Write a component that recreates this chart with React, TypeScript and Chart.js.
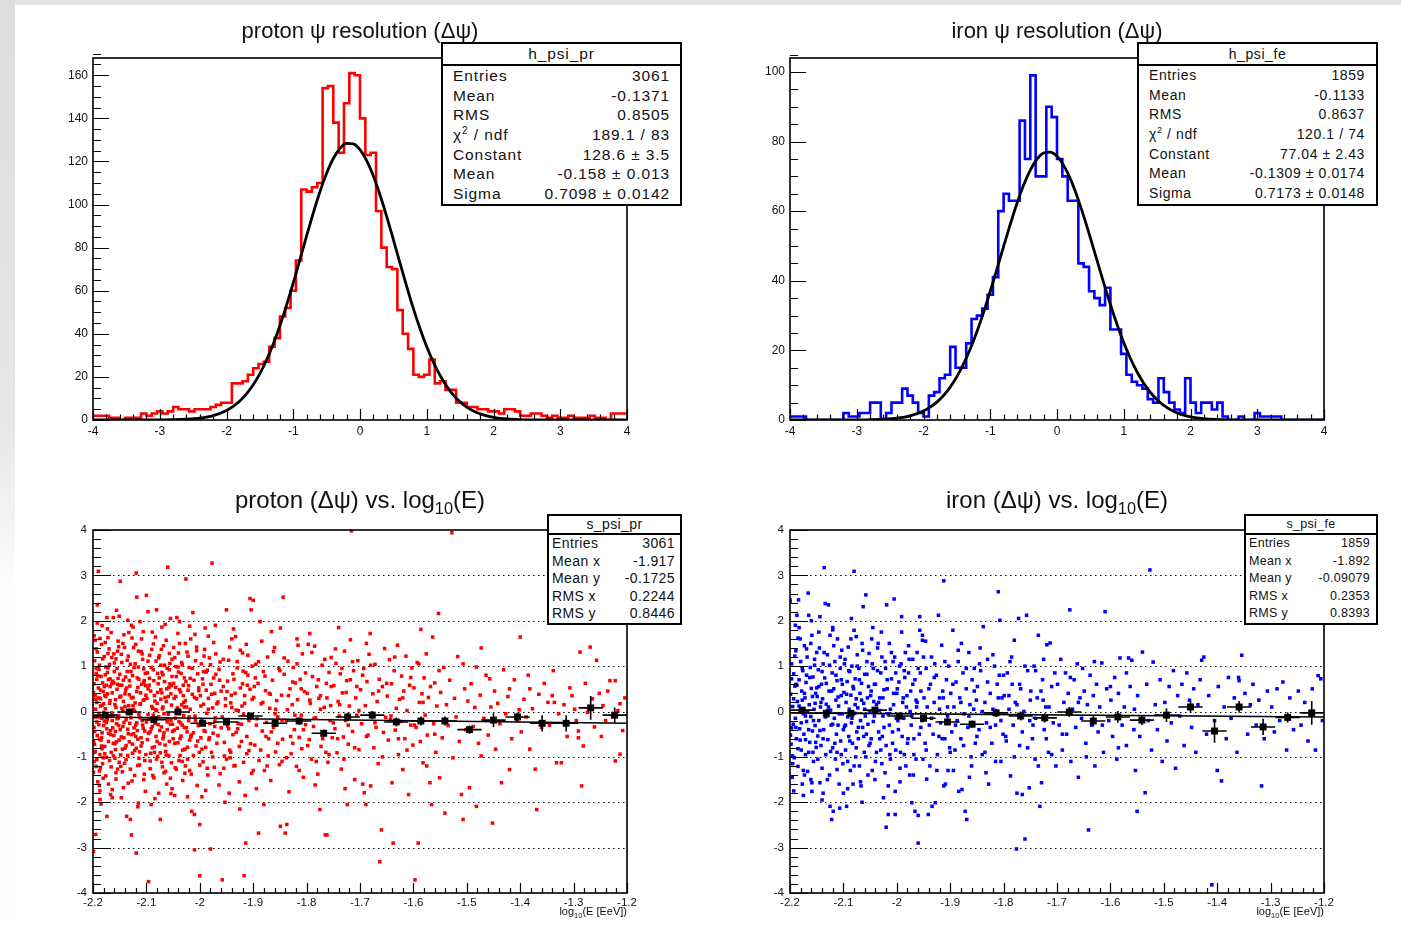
import React, { useEffect, useRef } from "react";
import { Chart, registerables } from "chart.js";

Chart.register(...registerables);

const FONT = '"Liberation Sans", Arial, Helvetica, sans-serif';

// ---------------- histogram data (100 bins, -4 .. 4) ----------------
const histBinLow = -4;
const histBinWidth = 0.08;

const protonCounts = [
  1, 2, 2, 2, 1, 1, 0, 1, 1, 1,
  3, 2, 3, 4, 3, 4, 6, 5, 5, 4,
  5, 5, 5, 6, 7, 8, 8, 17, 17, 18,
  21, 24, 26, 27, 34, 38, 48, 52, 60, 74,
  107, 106, 108, 110, 154, 155, 138, 124, 147, 161,
  160, 140, 123, 124, 97, 80, 71, 70, 51, 40,
  33, 21, 20, 21, 28, 17, 18, 14, 14, 8,
  8, 6, 6, 5, 5, 4, 4, 3, 5, 5,
  4, 2, 2, 3, 3, 2, 1, 2, 1, 1,
  2, 1, 1, 1, 2, 1, 1, 0, 3, 3,
];

const ironCounts = [
  1, 1, 1, 1, 0, 0, 0, 0, 0, 0,
  0, 2, 1, 1, 2, 2, 5, 5, 0, 2,
  5, 5, 9, 7, 5, 2, 1, 7, 8, 12,
  13, 21, 15, 15, 22, 29, 30, 32, 36, 41,
  60, 65, 63, 63, 86, 75, 99, 70, 70, 90,
  87, 75, 70, 63, 63, 45, 44, 37, 35, 33,
  38, 26, 26, 19, 13, 11, 10, 9, 6, 5,
  12, 8, 5, 3, 2, 12, 5, 2, 5, 5,
  3, 5, 1, 0, 0, 1, 0, 0, 2, 1,
  1, 1, 1, 0, 0, 0, 0, 0, 0, 0,
];

// fitted gaussian curves
const fitX = [
  -4, -3.5, -3, -2.8, -2.6, -2.4, -2.2,
  -2, -1.9, -1.8, -1.7, -1.6, -1.5, -1.4, -1.3, -1.2, -1.1,
  -1, -0.9, -0.8, -0.7, -0.6, -0.5, -0.4, -0.3, -0.2, -0.1,
  0, 0.1, 0.2, 0.3, 0.4, 0.5, 0.6, 0.7, 0.8, 0.9,
  1, 1.1, 1.2, 1.3, 1.4, 1.5, 1.6, 1.7, 1.8, 1.9,
  2, 2.2, 2.4, 2.6, 2.8, 3, 3.5, 4,
];
const protonFit = [
  0, 0, 0.04, 0.13, 0.35, 0.88, 2.05,
  4.44, 6.33, 8.85, 12.15, 16.33, 21.53, 27.83, 35.25, 43.79, 53.32,
  63.63, 74.46, 85.42, 96.08, 105.93, 114.5, 121.35, 126.05, 128.37, 128.17,
  125.45, 120.38, 113.25, 104.43, 94.42, 83.68, 72.71, 61.93, 51.72, 42.35,
  33.99, 26.75, 20.63, 15.6, 11.56, 8.4, 5.98, 4.18, 2.86, 1.92,
  1.27, 0.52, 0.19, 0.07, 0.02, 0, 0, 0,
];
const ironFit = [
  0, 0, 0, 0.08, 0.21, 0.52, 1.2,
  2.58, 3.68, 5.14, 7.04, 9.46, 12.46, 16.11, 20.41, 25.37, 30.93,
  36.98, 43.36, 49.86, 56.24, 62.21, 67.49, 71.8, 74.93, 76.68, 76.97,
  75.77, 73.15, 69.26, 64.32, 58.58, 52.33, 45.84, 39.39, 33.19, 27.43,
  22.23, 17.67, 13.78, 10.54, 7.9, 5.81, 4.19, 2.96, 2.06, 1.4,
  0.93, 0.39, 0.15, 0.05, 0.02, 0, 0, 0,
];

// ---------------- tick labels ----------------
const histXTicks = [-4, -3, -2, -1, 0, 1, 2, 3, 4];
const histXTickLabels = ["-4", "-3", "-2", "-1", "0", "1", "2", "3", "4"];
const protonYTicks = [0, 20, 40, 60, 80, 100, 120, 140, 160];
const protonYTickLabels = ["0", "20", "40", "60", "80", "100", "120", "140", "160"];
const ironYTicks = [0, 20, 40, 60, 80, 100];
const ironYTickLabels = ["0", "20", "40", "60", "80", "100"];
const profXTicks = [-2.2, -2.1, -2, -1.9, -1.8, -1.7, -1.6, -1.5, -1.4, -1.3, -1.2];
const profXTickLabels = ["-2.2", "-2.1", "-2", "-1.9", "-1.8", "-1.7", "-1.6", "-1.5", "-1.4", "-1.3", "-1.2"];
const profYTicks = [-4, -3, -2, -1, 0, 1, 2, 3, 4];
const profYTickLabels = ["-4", "-3", "-2", "-1", "0", "1", "2", "3", "4"];
const profGridLevels = [-3, -2, -1, 0, 1, 2, 3];

// ---------------- profiles (black markers) ----------------
const profileX = [
  -2.177, -2.132, -2.086, -2.041, -1.995, -1.95, -1.905, -1.859, -1.814, -1.768, -1.723,
  -1.677, -1.632, -1.586, -1.541, -1.495, -1.45, -1.405, -1.359, -1.314, -1.268, -1.223,
];
const profileHalfWidth = 0.0227;
const protonProfileY = [
  -0.08, -0.01, -0.18, -0.01, -0.26, -0.23, -0.1, -0.26, -0.21, -0.48, -0.12,
  -0.08, -0.23, -0.21, -0.21, -0.4, -0.19, -0.12, -0.26, -0.26, 0.08, -0.08,
];
const protonProfileErr = [
  0.04, 0.04, 0.05, 0.05, 0.06, 0.06, 0.07, 0.07, 0.08, 0.08, 0.09,
  0.09, 0.1, 0.1, 0.1, 0.09, 0.15, 0.1, 0.18, 0.18, 0.26, 0.17,
];
const ironProfileY = [
  0.03, -0.04, -0.04, 0.03, -0.1, -0.15, -0.23, -0.28, -0.03, -0.1, -0.14,
  -0.01, -0.21, -0.12, -0.19, -0.08, 0.1, -0.43, 0.1, -0.34, -0.13, -0.03,
];
const ironProfileErr = [
  0.05, 0.05, 0.06, 0.06, 0.07, 0.07, 0.08, 0.08, 0.09, 0.1, 0.1,
  0.11, 0.11, 0.13, 0.11, 0.15, 0.13, 0.26, 0.13, 0.18, 0.11, 0.26,
];
const lineX = [-2.2, -1.2];
const protonLineY = [-0.12, -0.26];
const ironLineY = [-0.03, -0.12];

// ---------------- scatter points, pairs of (log10 E, delta psi) ----------------
const protonScatter = [
  -2.199,0.42, -2.198,-0.35, -2.197,1.12, -2.196,-0.88, -2.195,0.05, -2.194,-1.21, -2.193,0.71, -2.192,2.35, -2.191,-0.12, -2.19,3.09,
  -2.189,0.93, -2.188,-0.61, -2.187,-1.94, -2.186,0.28, -2.185,-2.04, -2.184,1.48, -2.183,-0.47, -2.182,0.63, -2.181,-1.02, -2.18,0.17,
  -2.199,-1.34, -2.198,1.67, -2.197,-0.72, -2.196,0.36, -2.195,-2.71, -2.194,0.84, -2.193,-0.23, -2.192,1.31, -2.191,-1.55, -2.19,0.52,
  -2.189,-0.04, -2.188,1.02, -2.187,-0.95, -2.186,0.12, -2.185,0.77, -2.184,-0.58, -2.183,1.89, -2.182,-1.15, -2.181,0.44, -2.18,-0.31,
  -2.179,1.21, -2.178,-0.77, -2.177,0.06, -2.176,-1.42, -2.175,0.58, -2.174,2.07, -2.173,-0.18, -2.172,0.96, -2.171,-0.66, -2.17,1.38,
  -2.169,-1.08, -2.168,0.24, -2.167,-0.42, -2.166,1.74, -2.165,-0.03, -2.164,-1.72, -2.163,0.67, -2.162,2.07, -2.161,-0.53, -2.16,0.88,
  -2.159,0.15, -2.158,-0.84, -2.157,1.16, -2.156,-0.27, -2.155,0.49, -2.154,-1.27, -2.153,1.55, -2.152,-0.09, -2.151,-0.63, -2.15,0.32,
  -2.179,-0.21, -2.177,0.81, -2.175,-1.01, -2.173,0.39, -2.171,-0.48, -2.169,1.04, -2.167,-1.83, -2.165,0.61, -2.163,-0.36, -2.161,1.27,
  -2.159,-0.71, -2.157,0.09, -2.155,-0.16, -2.153,0.73, -2.151,-1.12, -2.196,1.57, -2.188,-1.63, -2.176,0.98, -2.166,-0.9, -2.156,2.23,
  -2.174,-2.31, -2.162,-0.98, -2.152,1.43, -2.158,-0.44, -2.168,0.55, -2.183,-0.82, -2.193,0.2, -2.172,1.63, -2.186,-1.24, -2.157,-1.49,
  -2.199,-3.09, -2.198,-1.1, -2.197,-0.9, -2.194,0.95, -2.189,0.3, -2.184,-0.15, -2.178,0.35, -2.171,0.7, -2.164,-0.2, -2.154,0.6,
  -2.149,2.87, -2.148,0.34, -2.147,-0.56, -2.146,1.08, -2.145,-1.33, -2.144,0.02, -2.143,0.69, -2.142,-0.24, -2.141,1.41, -2.14,-0.81,
  -2.139,0.47, -2.138,-1.06, -2.137,-2.31, -2.136,0.88, -2.135,-0.39, -2.134,1.22, -2.133,0.13, -2.132,-0.67, -2.131,0.56, -2.13,-2.38,
  -2.129,-0.14, -2.128,-2.72, -2.127,1.62, -2.126,-0.92, -2.125,0.31, -2.124,-0.49, -2.123,0.97, -2.122,-1.41, -2.121,0.19, -2.12,-0.3,
  -2.119,3.05, -2.119,-3.12, -2.118,2.52, -2.117,0.74, -2.116,-0.61, -2.115,1.33, -2.114,-0.07, -2.113,-1.18, -2.112,1.98, -2.111,0.41,
  -2.11,-0.76, -2.109,0.6, -2.108,-0.2, -2.107,1.15, -2.106,1.76, -2.105,-1.5, -2.104,0.26, -2.103,-0.43, -2.102,0.84, -2.101,-0.95,
  -2.1,2.56, -2.148,-1.21, -2.146,0.58, -2.144,-0.33, -2.142,1.69, -2.14,0.11, -2.138,-0.75, -2.136,-0.02, -2.134,-1.58, -2.132,0.37,
  -2.13,1.04, -2.128,-0.51, -2.126,0.79, -2.124,0.04, -2.122,-0.86, -2.12,1.48, -2.118,-0.25, -2.116,0.53, -2.114,-1.03, -2.112,0.16,
  -2.11,-0.58, -2.108,1.27, -2.106,-0.37, -2.104,0.68, -2.102,-1.76, -2.147,-1.9, -2.135,2.01, -2.125,1.86, -2.115,-2.02, -2.105,0.94,
  -2.099,0.29, -2.098,-0.62, -2.097,1.11, -2.096,-3.75, -2.095,-0.17, -2.094,0.73, -2.093,-1.09, -2.092,0.45, -2.091,-0.38, -2.09,1.37,
  -2.089,-0.8, -2.088,0.07, -2.087,0.92, -2.086,-1.46, -2.085,0.35, -2.084,-0.26, -2.083,1.64, -2.082,-0.55, -2.081,2.24, -2.08,0.18,
  -2.079,-0.99, -2.078,0.61, -2.077,-0.12, -2.076,1.23, -2.075,-0.71, -2.074,-2.38, -2.073,0.48, -2.072,-0.34, -2.071,0.86, -2.07,-1.22,
  -2.069,0.1, -2.068,1.45, -2.067,-0.47, -2.066,0.66, -2.065,1.92, -2.064,-0.88, -2.063,0.22, -2.062,-1.6, -2.061,0.95, -2.06,3.18,
  -2.059,-0.06, -2.058,0.53, -2.057,-0.66, -2.056,1.06, -2.055,-0.28, -2.054,0.39, -2.053,-1.13, -2.052,0.77, -2.051,-0.44, -2.097,0.5,
  -2.093,-0.45, -2.089,1.75, -2.085,-0.9, -2.081,0.02, -2.077,-1.8, -2.073,1.02, -2.069,-0.6, -2.065,0.31, -2.061,-0.23, -2.057,1.28,
  -2.053,0.57, -2.091,-2.05, -2.079,0.84, -2.067,-1.35, -2.055,2.05, -2.087,-0.08, -2.071,0.41, -2.063,-0.96, -2.052,-1.7,
  -2.049,0.62, -2.048,-0.41, -2.047,1.19, -2.046,-0.15, -2.045,0.33, -2.044,-1.27, -2.043,2.07, -2.042,0.08, -2.041,-0.69, -2.04,0.87,
  -2.039,-0.22, -2.038,1.5, -2.037,-0.97, -2.036,0.43, -2.035,-0.54, -2.034,0.15, -2.033,1.03, -2.032,-1.52, -2.031,0.58, -2.03,-0.09,
  -2.029,0.74, -2.028,-0.83, -2.027,0.24, -2.026,2.92, -2.025,-0.36, -2.024,1.31, -2.023,-1.05, -2.022,0.47, -2.021,-0.2, -2.02,0.97,
  -2.019,-0.63, -2.018,0.05, -2.017,1.6, -2.016,-1.38, -2.015,-2.2, -2.014,0.38, -2.013,2.18, -2.012,-0.47, -2.011,0.69, -2.01,-2.27,
  -2.01,-3.05, -2.009,-0.1, -2.008,1.12, -2.007,-0.76, -2.006,0.28, -2.005,-1.63, -2.004,0.83, -2.003,-0.31, -2.002,0.52, -2.001,-0.9,
  -2.047,-1.85, -2.041,1.72, -2.033,-0.3, -2.027,-1.2, -2.019,1.88, -2.045,0.99, -2.029,0.1, -2.017,-0.56, -2.006,1.42,
  -1.999,0.35, -1.998,-0.58, -1.997,1.05, -1.996,-0.19, -1.995,0.72, -1.994,-1.11, -1.993,0.16, -1.992,-0.42, -1.991,1.37, -1.99,1.84,
  -1.989,-0.79, -1.988,0.47, -1.987,-0.04, -1.986,0.91, -1.985,-1.4, -1.984,0.29, -1.983,-0.62, -1.982,1.18, -1.981,-0.27, -1.98,-3.03,
  -1.979,0.6, -1.978,-0.9, -1.977,3.27, -1.976,0.08, -1.975,-0.48, -1.974,1.52, -1.973,-1.23, -1.972,0.4, -1.971,-0.14, -1.97,0.82,
  -1.968,-0.7, -1.966,0.21, -1.964,-1.62, -1.962,1.09, -1.96,-0.36, -1.958,-3.71, -1.956,0.55, -1.954,-0.98, -1.952,0.13, -1.95,2.24,
  -2.0,-2.49, -2.0,-3.62, -1.996,-1.88, -1.984,1.66, -1.972,-0.33, -1.963,0.69, -1.955,-1.25, -1.993,0.88,
  -1.949,0.44, -1.948,-0.32, -1.946,1.13, -1.944,-0.85, -1.942,0.19, -1.94,1.6, -1.938,-0.51, -1.936,0.71, -1.934,-1.19, -1.932,0.03,
  -1.93,0.96, -1.928,-0.27, -1.926,-1.55, -1.924,0.52, -1.922,-0.66, -1.92,1.29, -1.918,-0.06, -1.917,-3.62, -1.916,0.35, -1.914,-2.9,
  -1.912,-0.93, -1.91,0.8, -1.908,-0.2, -1.906,2.49, -1.904,2.24, -1.903,-1.36, -1.902,0.27, -1.9,2.45, -1.945,-1.8, -1.937,1.82,
  -1.929,-0.38, -1.921,0.12, -1.913,1.48, -1.905,-0.71, -1.941,0.36, -1.925,-2.15, -1.911,0.58, -1.943,-1.02, -1.919,0.89,
  -1.899,0.31, -1.897,-0.74, -1.895,1.04, -1.893,-0.16, -1.891,0.62, -1.89,-2.68, -1.889,-1.08, -1.887,1.98, -1.885,0.17, -1.883,-0.43,
  -1.881,0.88, -1.88,-2.05, -1.879,-1.3, -1.877,0.46, -1.875,-0.24, -1.873,1.2, -1.871,-0.6, -1.869,0.07, -1.867,-1.52, -1.866,1.76,
  -1.864,0.69, -1.862,-0.35, -1.86,1.41, -1.858,-0.89, -1.856,0.24, -1.854,-0.12, -1.852,0.95, -1.851,-1.17, -1.894,-1.7, -1.884,1.55,
  -1.876,-0.55, -1.868,0.38, -1.859,-0.05, -1.896,0.74, -1.872,-0.98,
  -1.849,1.84, -1.849,-2.53, -1.847,0.36, -1.845,-0.61, -1.844,2.52, -1.842,0.82, -1.84,-2.68, -1.838,-0.2, -1.837,-2.49, -1.835,1.11,
  -1.833,-1.77, -1.831,0.5, -1.829,-0.93, -1.827,0.15, -1.825,0.97, -1.823,-0.4, -1.821,0.63, -1.819,-1.21, -1.817,0.26, -1.816,1.46,
  -1.814,-0.57, -1.812,0.71, -1.81,-0.08, -1.808,1.27, -1.806,-1.45, -1.804,0.44, -1.802,-0.29, -1.846,-1.1, -1.836,0.04, -1.826,-0.7,
  -1.818,1.6, -1.809,-0.82,
  -1.799,0.4, -1.797,1.48, -1.795,-0.62, -1.793,0.18, -1.791,-1.05, -1.789,0.77, -1.787,-0.33, -1.785,1.44, -1.783,-0.14, -1.781,0.55,
  -1.779,-1.38, -1.777,0.29, -1.775,-2.16, -1.773,-0.77, -1.771,1.02, -1.769,-0.46, -1.767,0.09, -1.765,-2.72, -1.763,0.62, -1.762,-2.72,
  -1.76,-1.12, -1.758,0.86, -1.756,-0.2, -1.754,1.19, -1.752,-0.58, -1.794,1.72, -1.784,-1.62, -1.774,0.35, -1.764,-0.9, -1.755,0.13,
  -1.749,0.57, -1.747,-0.38, -1.745,1.06, -1.743,-0.91, -1.741,0.22, -1.739,-0.1, -1.737,0.83, -1.735,-1.27, -1.733,0.41, -1.731,-0.56,
  -1.729,1.33, -1.727,-0.2, -1.725,0.68, -1.724,-2.05, -1.722,-0.72, -1.72,0.12, -1.718,1.58, -1.716,3.98, -1.714,-0.44, -1.712,0.9,
  -1.71,-1.5, -1.708,0.3, -1.706,-0.08, -1.704,1.12, -1.702,-0.84, -1.74,1.85, -1.728,-1.7,
  -1.699,0.48, -1.697,-0.27, -1.695,-1.6, -1.693,0.95, -1.692,-1.79, -1.69,0.13, -1.689,-2.05, -1.687,0.66, -1.685,-0.52, -1.683,1.26,
  -1.681,1.72, -1.68,-1.64, -1.678,-0.09, -1.676,0.39, -1.674,-0.8, -1.672,1.04, -1.67,-0.35, -1.668,0.22, -1.666,-1.15, -1.664,0.71,
  -1.663,-3.31, -1.66,-2.61, -1.658,0.55, -1.656,-0.46, -1.654,1.39, -1.652,-0.13, -1.688,1.5,
  -1.649,0.34, -1.647,-0.63, -1.645,1.14, -1.643,-0.18, -1.641,0.61, -1.64,-1.57, -1.638,-2.9, -1.636,0.9, -1.634,-0.41, -1.632,0.07,
  -1.63,1.46, -1.628,-0.95, -1.626,0.27, -1.624,-0.22, -1.622,0.78, -1.62,-1.28, -1.618,0.45, -1.616,-0.6, -1.614,1.22, -1.612,0.02,
  -1.609,-1.83, -1.607,0.58, -1.605,-0.3, -1.603,0.96, -1.601,-0.74,
  -1.599,0.52, -1.597,-3.71, -1.595,-0.35, -1.593,1.08, -1.591,-2.9, -1.589,0.2, -1.587,-0.66, -1.586,1.81, -1.584,0.39, -1.582,-1.13,
  -1.58,0.74, -1.578,-0.08, -1.576,1.27, -1.574,-0.52, -1.572,0.31, -1.569,-1.57, -1.566,-2.05, -1.564,1.64, -1.562,-0.27, -1.56,0.63,
  -1.558,-0.9, -1.556,0.12, -1.553,2.16, -1.551,-1.46,
  -1.549,0.42, -1.546,-0.58, -1.543,0.97, -1.541,-2.24, -1.538,0.15, -1.535,-0.31, -1.532,0.69, -1.528,3.94, -1.526,-1.02, -1.523,0.29,
  -1.52,-0.12, -1.517,1.21, -1.514,-0.66, -1.51,-1.83, -1.507,1.05, -1.507,-2.38, -1.504,0.5, -1.502,-0.4,
  -1.498,0.23, -1.495,-1.68, -1.492,0.61, -1.488,-0.33, -1.485,0.09, -1.482,0.98, -1.482,-2.09, -1.478,-0.7, -1.475,0.36, -1.473,1.4,
  -1.473,-0.98, -1.468,-0.15, -1.464,0.8, -1.46,-0.52, -1.457,0.72, -1.452,-2.46, -1.455,0.1,
  -1.448,0.45, -1.446,-0.83, -1.442,0.18, -1.438,-0.27, -1.435,-1.57, -1.431,0.92, -1.427,-0.05, -1.423,0.33, -1.42,-1.28, -1.42,0.5,
  -1.416,-0.6, -1.411,0.7, -1.406,-0.2, -1.402,0.04, -1.4,1.64,
  -1.398,-0.45, -1.393,0.27, -1.389,-0.12, -1.385,0.8, -1.382,0.5, -1.382,-0.83, -1.377,0.06, -1.372,-1.27, -1.369,-2.16, -1.365,0.38,
  -1.36,-0.35, -1.355,0.62,
  -1.348,0.2, -1.345,-0.3, -1.34,0.35, -1.338,0.9, -1.336,0.2, -1.332,-1.13, -1.328,-0.05, -1.323,-1.13, -1.318,0.15, -1.312,-0.55,
  -1.307,0.52, -1.303,0.35,
  -1.298,0.05, -1.295,-0.2, -1.291,-0.43, -1.291,-0.58, -1.288,1.31, -1.285,-1.64, -1.282,-0.76, -1.278,0.62, -1.274,-0.02, -1.269,1.42,
  -1.265,0.28, -1.261,-0.34, -1.257,1.13, -1.252,0.4,
  -1.248,-0.55, -1.245,0.13, -1.24,-0.2, -1.236,0.45, -1.232,0.68, -1.227,-0.12, -1.222,0.68, -1.222,-1.09, -1.217,0.02, -1.213,-0.94,
  -1.213,0.17, -1.208,-0.42, -1.204,0.3,
];

// the dense core of the proton cloud
const protonScatterCore = [
  -2.198,0.61, -2.196,-0.12, -2.194,1.38, -2.192,-0.53, -2.19,0.94, -2.188,-1.31, -2.186,0.47, -2.184,-0.76, -2.182,1.16, -2.18,-0.02,
  -2.197,-0.44, -2.195,0.27, -2.193,-1.06, -2.191,0.79, -2.189,-0.29, -2.187,1.61, -2.185,-0.63, -2.183,0.14, -2.181,-1.47, -2.179,0.55,
  -2.178,-0.93, -2.176,0.33, -2.174,-0.38, -2.172,1.28, -2.17,-0.11, -2.168,0.72, -2.166,-1.22, -2.164,0.41, -2.162,-0.7, -2.16,1.07,
  -2.177,1.52, -2.175,-0.24, -2.173,0.86, -2.171,-1.6, -2.169,0.18, -2.167,-0.51, -2.165,1.19, -2.163,-0.09, -2.161,0.63, -2.159,-1.03,
  -2.158,0.26, -2.156,-0.67, -2.154,1.33, -2.152,-0.31, -2.15,0.82, -2.148,-0.96, -2.146,0.07, -2.144,1.5, -2.142,-0.58, -2.14,0.39,
  -2.157,-1.35, -2.155,0.95, -2.153,-0.15, -2.151,0.58, -2.149,-0.4, -2.147,1.26, -2.145,-0.83, -2.143,0.22, -2.141,-1.14, -2.139,0.76,
  -2.138,-0.18, -2.136,1.13, -2.134,-0.49, -2.132,0.68, -2.13,-1.27, -2.128,0.3, -2.126,-0.72, -2.124,1.41, -2.122,0.01, -2.12,-0.55,
  -2.137,0.52, -2.135,-0.97, -2.133,1.74, -2.131,-0.26, -2.129,0.88, -2.127,-1.53, -2.125,0.13, -2.123,-0.36, -2.121,1.05, -2.119,-0.81,
  -2.118,0.44, -2.116,-1.19, -2.114,0.71, -2.112,-0.14, -2.11,1.32, -2.108,-0.69, -2.106,0.25, -2.104,-1.38, -2.102,0.57, -2.1,-0.23,
  -2.117,-0.42, -2.115,0.98, -2.113,-0.89, -2.111,0.17, -2.109,1.6, -2.107,-0.3, -2.105,0.64, -2.103,-1.08, -2.101,0.36, -2.199,-0.66,
  -2.098,0.85, -2.096,-0.48, -2.094,1.24, -2.092,-0.92, -2.09,0.11, -2.088,-1.41, -2.086,0.68, -2.084,0.23, -2.082,1.11, -2.08,-0.66,
  -2.097,-0.07, -2.095,0.58, -2.093,-1.26, -2.091,0.97, -2.089,-0.33, -2.087,1.49, -2.085,-0.78, -2.083,0.04, -2.081,-1.05, -2.079,0.42,
  -2.078,-0.29, -2.076,0.74, -2.074,-0.91, -2.072,1.37, -2.07,0.06, -2.068,-0.54, -2.066,1.02, -2.064,-1.32, -2.062,0.5, -2.06,-0.17,
  -2.077,1.18, -2.075,-0.42, -2.073,0.27, -2.071,-1.12, -2.069,0.81, -2.067,-0.05, -2.065,-0.74, -2.063,1.57, -2.061,-0.4, -2.059,0.33,
  -2.058,-0.97, -2.056,0.61, -2.054,-0.19, -2.052,1.15, -2.05,-0.6, -2.048,0.29, -2.046,-1.24, -2.044,0.77, -2.042,-0.37, -2.04,1.29,
  -2.057,0.92, -2.055,-1.47, -2.053,0.14, -2.051,-0.28, -2.049,1.41, -2.047,-0.7, -2.045,0.53, -2.043,-0.04, -2.041,0.98, -2.039,-1.08,
  -2.038,0.48, -2.036,-0.25, -2.034,1.08, -2.032,-0.85, -2.03,0.2, -2.028,-1.36, -2.026,0.66, -2.024,-0.45, -2.022,1.22, -2.02,-0.12,
  -2.037,-0.6, -2.035,0.84, -2.033,-1.1, -2.031,0.35, -2.029,-0.35, -2.027,1.5, -2.025,0.1, -2.023,-0.79, -2.021,0.57, -2.019,-1.3,
  -2.018,0.73, -2.016,-0.52, -2.014,0.95, -2.012,-0.97, -2.01,0.31, -2.008,-0.2, -2.006,1.34, -2.004,-0.65, -2.002,0.46, -2.0,-1.18,
  -1.998,0.12, -1.996,-0.83, -1.994,0.6, -1.992,1.22, -1.99,-0.44, -1.988,0.87, -1.986,-1.25, -1.984,0.05, -1.982,-0.58, -1.98,1.03,
  -1.978,0.38, -1.976,-1.0, -1.974,0.74, -1.972,-0.22, -1.97,1.27, -1.968,0.17, -1.966,-0.53, -1.964,0.93, -1.962,-1.37, -1.96,0.45,
  -1.958,-0.12, -1.956,1.15, -1.954,-0.68, -1.952,0.28, -1.95,-1.05, -1.948,0.67, -1.946,-0.38, -1.944,1.42, -1.942,-0.9, -1.94,0.09,
  -1.938,0.83, -1.936,-1.2, -1.934,0.4, -1.932,-0.46, -1.93,1.1, -1.928,0.02, -1.926,-0.77, -1.924,1.35, -1.922,-0.28, -1.92,0.61,
  -1.918,-1.12, -1.916,0.18, -1.914,0.86, -1.912,-0.55, -1.91,1.24, -1.908,-0.86, -1.906,0.49, -1.904,-0.1, -1.902,1.0, -1.9,-1.3,
  -2.192,1.95, -2.187,-1.75, -2.173,1.82, -2.164,-1.9, -2.151,2.1, -2.143,-1.68, -2.128,1.9, -2.116,-2.1, -2.097,2.2, -2.084,-1.92,
  -2.071,1.86, -2.054,-1.81, -2.038,1.98, -2.023,-1.88, -2.009,1.7, -1.989,-1.74, -1.971,1.9, -1.953,-2.0, -1.933,1.65, -1.915,-1.85,
  -1.898,0.55, -1.894,-0.3, -1.89,1.1, -1.886,-0.85, -1.882,0.2, -1.878,0.78, -1.874,-1.2, -1.87,0.4, -1.866,-0.45, -1.862,1.32,
  -1.858,0.05, -1.854,-0.7, -1.85,0.9, -1.846,-0.2, -1.842,1.18, -1.838,-1.02, -1.834,0.35, -1.83,-0.55, -1.826,0.65, -1.822,-0.08,
  -1.818,1.05, -1.814,-1.3, -1.81,0.5, -1.806,-0.4, -1.802,0.85, -1.798,-0.75, -1.794,0.25, -1.79,1.3, -1.786,-0.15, -1.782,-1.1,
  -1.778,0.7, -1.774,0.05, -1.77,-0.6, -1.766,1.15, -1.762,0.3, -1.758,-0.95, -1.754,0.55, -1.75,-0.25, -1.746,1.38, -1.742,-0.6,
  -1.738,0.15, -1.734,0.95, -1.73,-1.05, -1.726,0.42, -1.722,-0.3, -1.718,0.7, -1.714,1.1, -1.71,-0.8, -1.706,0.55, -1.702,0.02,
  -1.695,0.8, -1.688,-0.55, -1.68,1.02, -1.672,-0.25, -1.665,0.45, -1.658,-1.0, -1.65,0.62, -1.642,-0.1, -1.635,1.2, -1.628,-0.6,
  -1.62,0.3, -1.612,-0.85, -1.605,0.75, -1.598,-0.3, -1.59,1.05, -1.582,0.2, -1.575,-1.2, -1.568,0.55, -1.56,-0.5, -1.552,0.9,
];

const ironScatter = [
  -2.2,2.46, -2.2,2.42, -2.199,0.38, -2.198,-0.72, -2.197,1.05, -2.196,-1.45, -2.195,0.11, -2.194,-0.28, -2.193,0.83, -2.192,-1.02,
  -2.191,0.56, -2.19,-0.15, -2.189,1.34, -2.188,-0.6, -2.187,2.12, -2.186,0.22, -2.185,-1.21, -2.184,2.46, -2.183,0.7, -2.182,-0.38,
  -2.181,0.02, -2.18,1.1, -2.179,-0.85, -2.178,0.45, -2.177,-1.6, -2.176,0.9, -2.175,-0.05, -2.174,-0.5, -2.173,1.45, -2.172,0.3,
  -2.171,-0.95, -2.17,0.64, -2.169,-0.22, -2.168,1.2, -2.167,-1.32, -2.166,2.61, -2.165,2.12, -2.164,0.15, -2.163,-0.68, -2.162,0.97,
  -2.161,-0.11, -2.16,0.51, -2.159,1.68, -2.159,-1.76, -2.159,-1.57, -2.158,-0.43, -2.157,0.76, -2.156,-1.1, -2.155,0.05, -2.154,1.02,
  -2.153,-0.31, -2.152,0.4, -2.151,-0.79, -2.15,1.3, -2.197,-0.36, -2.193,-1.75, -2.189,0.6, -2.185,1.62, -2.181,-0.63, -2.177,0.25,
  -2.173,-1.4, -2.169,0.8, -2.165,-0.4, -2.161,1.5, -2.157,-0.9, -2.153,0.18, -2.195,-0.98, -2.183,1.85, -2.171,-0.1,
  -2.149,0.33, -2.148,-0.54, -2.147,0.92, -2.146,-0.2, -2.145,1.4, -2.144,2.09, -2.144,-1.57, -2.143,0.1, -2.142,-0.75, -2.141,0.6,
  -2.14,-1.25, -2.139,0.28, -2.138,1.05, -2.137,-0.4, -2.136,3.17, -2.135,0.74, -2.134,2.38, -2.133,-0.95, -2.132,0.16, -2.131,-0.1,
  -2.13,1.25, -2.129,-0.62, -2.128,2.35, -2.127,0.45, -2.126,-1.4, -2.125,1.68, -2.125,-2.09, -2.124,0.03, -2.123,-0.3, -2.122,-2.38,
  -2.121,0.85, -2.12,-0.8, -2.119,-2.2, -2.118,0.5, -2.117,-0.15, -2.116,1.1, -2.115,-1.05, -2.114,0.25, -2.113,-0.5, -2.112,0.68,
  -2.111,1.6, -2.11,-0.3, -2.109,0.12, -2.108,-1.6, -2.107,-2.13, -2.106,0.95, -2.105,-0.65, -2.104,0.35, -2.103,1.35, -2.102,-0.05,
  -2.101,-1.15, -2.146,0.55, -2.138,-1.8, -2.13,0.02, -2.12,1.85, -2.112,-0.9, -2.104,0.7,
  -2.099,0.42, -2.098,-0.33, -2.097,1.15, -2.096,-0.85, -2.095,0.2, -2.094,-2.09, -2.093,0.66, -2.092,-0.12, -2.091,1.42, -2.09,-0.55,
  -2.089,0.05, -2.088,0.88, -2.087,-1.3, -2.086,0.36, -2.085,-0.25, -2.084,1.0, -2.083,-0.7, -2.082,-1.6, -2.081,0.5, -2.08,3.09,
  -2.08,1.79, -2.079,-0.04, -2.078,0.72, -2.077,-1.0, -2.076,0.28, -2.075,-0.45, -2.074,1.25, -2.073,0.08, -2.072,-0.6, -2.071,0.95,
  -2.07,-1.2, -2.069,0.4, -2.068,-0.2, -2.067,-1.64, -2.066,0.62, -2.065,1.5, -2.064,-0.35, -2.063,2.31, -2.062,0.18, -2.061,-0.9,
  -2.06,0.82, -2.059,-0.1, -2.058,2.57, -2.057,-0.5, -2.056,1.1, -2.055,0.3, -2.054,-1.4, -2.053,0.55, -2.052,-0.75, -2.051,0.0,
  -2.092,-1.7, -2.076,1.65,
  -2.049,0.35, -2.048,-0.6, -2.046,1.05, -2.044,-0.22, -2.042,0.6, -2.04,-1.1, -2.038,0.15, -2.036,0.9, -2.035,1.5, -2.034,-0.45,
  -2.032,0.3, -2.03,-0.85, -2.028,1.2, -2.026,-0.1, -2.024,0.48, -2.022,-1.35, -2.02,-2.55, -2.019,2.35, -2.018,0.7, -2.016,-2.27,
  -2.016,-1.64, -2.014,-0.3, -2.012,0.05, -2.01,1.3, -2.008,-0.7, -2.006,0.4, -2.005,2.48, -2.003,-2.27, -2.003,-1.76, -2.002,0.85,
  -2.001,-0.15, -2.047,1.6, -2.041,-1.5, -2.033,0.02, -2.027,-0.55, -2.021,0.95, -2.013,-0.95, -2.007,1.1, -2.043,0.22, -2.029,1.75,
  -1.999,0.5, -1.997,-0.4, -1.995,1.0, -1.993,-0.9, -1.991,2.09, -1.991,1.75, -1.989,0.2, -1.987,-0.15, -1.985,0.75, -1.983,-1.2,
  -1.981,0.35, -1.979,-0.6, -1.977,1.15, -1.975,0.0, -1.973,-0.3, -1.972,-2.01, -1.97,0.6, -1.968,-0.95, -1.966,-2.2, -1.964,0.25,
  -1.962,1.3, -1.96,-2.29, -1.96,-2.9, -1.958,-0.5, -1.957,1.79, -1.957,2.09, -1.955,0.45, -1.953,-0.2, -1.952,1.68, -1.952,1.57,
  -1.951,-1.05, -1.994,-1.55, -1.986,0.9, -1.978,1.45, -1.969,-1.4, -1.963,0.1, -1.956,0.85,
  -1.949,0.3, -1.947,-0.7, -1.945,0.95, -1.944,-1.49, -1.943,0.1, -1.941,-2.27, -1.939,-0.3, -1.937,0.6, -1.935,1.2, -1.934,-2.09,
  -1.932,-0.5, -1.93,0.2, -1.928,-2.01, -1.926,0.8, -1.924,-0.95, -1.922,2.12, -1.92,0.05, -1.918,-0.25, -1.916,1.46, -1.914,0.45,
  -1.912,2.88, -1.912,-1.64, -1.91,-0.6, -1.909,-1.6, -1.907,0.7, -1.905,-0.1, -1.903,1.0, -1.901,-0.8, -1.946,1.55, -1.938,-1.2,
  -1.929,1.05, -1.921,-0.55, -1.913,0.3, -1.904,-1.3,
  -1.899,0.4, -1.897,-0.45, -1.895,1.79, -1.893,0.1, -1.891,-0.85, -1.889,0.65, -1.887,-0.2, -1.885,1.1, -1.884,-1.76, -1.882,0.3,
  -1.88,-0.6, -1.878,-1.72, -1.876,0.85, -1.874,-0.05, -1.872,-2.2, -1.87,0.5, -1.869,-2.38, -1.867,-0.35, -1.865,1.3, -1.863,0.15,
  -1.861,-1.0, -1.859,0.7, -1.857,-0.3, -1.855,0.95, -1.853,-0.7, -1.851,0.25, -1.894,-1.3, -1.879,1.5, -1.864,-1.45, -1.856,0.05,
  -1.849,0.55, -1.846,-0.4, -1.843,0.9, -1.84,-0.95, -1.838,1.87, -1.835,0.2, -1.832,-0.25, -1.83,1.15, -1.828,-1.6, -1.825,0.4,
  -1.822,-0.7, -1.82,0.05, -1.817,1.0, -1.815,-0.3, -1.812,0.6, -1.81,2.64, -1.807,2.01, -1.805,-1.1, -1.803,0.3, -1.801,-0.5,
  -1.844,1.4, -1.833,-1.35, -1.819,-0.05, -1.808,0.8,
  -1.799,0.35, -1.796,-0.55, -1.793,0.85, -1.79,0.05, -1.787,-1.42, -1.784,0.6, -1.782,-0.3, -1.78,1.57, -1.778,0.2, -1.776,-3.03,
  -1.775,-1.8, -1.772,2.05, -1.77,-0.75, -1.768,0.5, -1.765,-1.83, -1.762,0.0, -1.76,-2.81, -1.757,2.12, -1.755,0.9, -1.752,-1.68,
  -1.751,-0.2, -1.788,1.1,
  -1.749,0.45, -1.746,-0.6, -1.743,1.0, -1.74,-0.15, -1.737,0.3, -1.735,1.68, -1.732,-2.09, -1.729,-1.57, -1.727,0.7, -1.724,-0.4,
  -1.721,0.1, -1.719,1.47, -1.716,-0.9, -1.713,1.51, -1.71,0.55, -1.707,-0.25, -1.704,0.85, -1.702,-1.2, -1.741,-1.05, -1.726,0.25,
  -1.699,0.6, -1.696,-0.3, -1.693,1.15, -1.69,-0.85, -1.687,0.2, -1.684,0.85, -1.682,-0.5, -1.679,0.4, -1.676,2.24, -1.674,-1.1,
  -1.671,0.05, -1.668,0.7, -1.665,-0.35, -1.662,1.05, -1.66,-1.45, -1.657,0.3, -1.654,-0.15, -1.652,0.95,
  -1.649,0.45, -1.646,-0.7, -1.643,0.15, -1.641,-2.61, -1.638,0.8, -1.635,-0.3, -1.632,0.35, -1.629,-1.2, -1.626,0.6, -1.623,-0.45,
  -1.62,0.1, -1.616,1.07, -1.613,-0.9, -1.61,2.2, -1.607,0.5, -1.603,-0.2,
  -1.599,0.25, -1.596,-0.55, -1.592,0.75, -1.588,-1.05, -1.585,0.4, -1.582,1.18, -1.578,-0.3, -1.574,0.1, -1.57,-0.75, -1.566,1.18,
  -1.563,0.55, -1.56,1.13, -1.556,-0.4, -1.553,-1.3, -1.55,-2.2,
  -1.549,0.35, -1.545,-0.55, -1.54,1.31, -1.535,-1.79, -1.532,0.6, -1.529,-0.2, -1.526,3.12, -1.523,-0.85, -1.52,1.09, -1.516,0.15,
  -1.512,-0.4, -1.507,0.7, -1.503,-1.1,
  -1.498,0.2, -1.494,-0.65, -1.49,0.55, -1.486,-0.25, -1.482,0.9, -1.478,-1.25, -1.474,0.35, -1.47,-0.1, -1.466,0.6, -1.462,-0.75,
  -1.457,0.85, -1.452,0.25,
  -1.448,-0.35, -1.444,0.5, -1.44,-0.9, -1.436,0.15, -1.432,0.7, -1.429,1.13, -1.425,1.2, -1.42,-0.5, -1.416,0.35, -1.41,-3.82,
  -1.405,-0.2, -1.4,-1.3,
  -1.398,0.55, -1.392,-1.53, -1.387,0.1, -1.383,-0.6, -1.379,0.75, -1.374,-0.15, -1.368,0.3, -1.363,-0.9, -1.36,0.75, -1.359,0.68,
  -1.354,1.24,
  -1.348,0.4, -1.343,-0.5, -1.338,0.15, -1.333,0.6, -1.327,-0.3, -1.322,0.25, -1.317,-1.64, -1.312,-0.6, -1.306,0.45,
  -1.298,0.1, -1.293,-0.45, -1.288,0.5, -1.283,-0.2, -1.277,0.65, -1.27,-0.85, -1.264,0.3, -1.257,-0.4,
  -1.248,0.45, -1.243,-0.3, -1.236,0.2, -1.23,-0.65, -1.222,0.5, -1.216,-0.85, -1.211,0.79, -1.206,0.72, -1.203,-0.2,
];

// the denser core of the iron cloud
const ironScatterCore = [
  -2.199,-0.52, -2.197,0.72, -2.195,-1.15, -2.193,0.28, -2.191,1.22, -2.189,-0.35, -2.187,0.58, -2.185,-0.82, -2.183,0.12, -2.181,1.6,
  -2.179,-0.25, -2.177,0.95, -2.175,-1.3, -2.173,0.4, -2.171,-0.62, -2.169,1.38, -2.167,0.0, -2.165,-0.9, -2.163,0.75, -2.161,-1.5,
  -2.158,0.33, -2.156,-0.2, -2.154,1.15, -2.152,-0.68, -2.15,0.52, -2.148,-1.05, -2.146,1.75, -2.144,-0.42, -2.142,0.2, -2.14,0.88,
  -2.138,-0.6, -2.136,1.3, -2.134,-0.12, -2.132,0.62, -2.13,-1.5, -2.128,0.1, -2.126,1.02, -2.124,-0.88, -2.122,0.45, -2.12,-0.28,
  -2.118,1.45, -2.116,-0.7, -2.114,0.8, -2.112,-1.28, -2.11,0.32, -2.108,-0.05, -2.106,1.2, -2.104,-0.95, -2.102,0.6, -2.1,-0.4,
  -2.098,1.05, -2.096,-0.3, -2.094,0.38, -2.092,-1.1, -2.09,0.9, -2.088,-0.65, -2.086,1.6, -2.084,-0.15, -2.082,0.55, -2.08,-1.2,
  -2.078,0.15, -2.076,-0.8, -2.074,1.0, -2.072,-0.35, -2.07,0.7, -2.068,-1.55, -2.066,0.25, -2.064,1.35, -2.062,-0.55, -2.06,0.05,
  -2.058,-1.0, -2.056,0.82, -2.054,-0.28, -2.052,1.28, -2.05,-0.7, -2.048,0.45, -2.046,-1.3, -2.044,0.95, -2.042,-0.1, -2.04,0.6,
  -2.038,-0.9, -2.036,1.4, -2.034,0.2, -2.032,-0.6, -2.03,0.85, -2.028,-1.15, -2.026,0.3, -2.024,-0.35, -2.022,1.1, -2.02,-0.75,
  -2.018,0.5, -2.016,-0.05, -2.014,1.5, -2.012,-1.05, -2.01,0.72, -2.008,-0.45, -2.006,0.15, -2.004,1.2, -2.002,-0.85, -2.0,0.4,
  -1.998,-0.2, -1.996,0.65, -1.994,-1.25, -1.992,1.05, -1.99,-0.55, -1.988,0.3, -1.986,-0.95, -1.984,1.3, -1.982,0.1, -1.98,-0.7,
  -1.978,0.85, -1.976,-1.4, -1.974,0.45, -1.972,-0.1, -1.97,1.15, -1.968,-0.6, -1.966,0.7, -1.964,-1.05, -1.962,0.2, -1.96,0.95,
  -1.955,-0.35, -1.95,1.2, -1.945,-0.85, -1.94,0.5, -1.935,-0.15, -1.93,0.75, -1.925,-1.3, -1.92,0.3, -1.915,-0.6, -1.91,1.1,
  -1.905,0.1, -1.9,-0.9, -1.895,0.6, -1.89,-0.3, -1.885,1.35, -1.88,0.2, -1.875,-0.75, -1.87,0.95, -1.865,-0.1, -1.86,-1.2,
  -1.855,0.45, -1.85,-0.55, -1.845,1.05, -1.84,0.0, -1.835,-0.9, -1.83,0.65, -1.825,-0.35, -1.82,1.25, -1.815,-1.1, -1.81,0.3,
  -1.805,-0.2, -1.8,0.8, -1.795,-0.65, -1.79,0.35, -1.785,1.2, -1.78,-1.0, -1.775,0.15, -1.77,0.6, -1.765,-0.45, -1.76,1.0,
  -1.755,-0.8, -1.75,0.25, -1.745,-0.3, -1.74,0.9, -1.735,-1.2, -1.73,0.45, -1.725,1.15, -1.72,-0.6, -1.715,0.1, -1.71,-0.95,
  -2.19,1.9, -2.175,-1.85, -2.16,2.0, -2.14,-1.95, -2.12,1.8, -2.1,-1.8, -2.085,2.05, -2.065,-2.0, -2.045,1.85, -2.025,-1.9,
  -1.69,-0.5, -1.675,0.75, -1.66,0.2, -1.645,-1.0, -1.63,1.1, -1.615,-0.3, -1.6,0.55, -1.585,-0.8, -1.57,0.85, -1.555,0.05,
];

// ---------------- stats boxes ----------------
const protonHistStats = [
  ["Entries", "3061"], ["Mean", "-0.1371"], ["RMS", "0.8505"], ["CHI", "189.1 / 83"],
  ["Constant", "128.6 ± 3.5"], ["Mean", "-0.158 ± 0.013"], ["Sigma", "0.7098 ± 0.0142"],
];
const ironHistStats = [
  ["Entries", "1859"], ["Mean", "-0.1133"], ["RMS", "0.8637"], ["CHI", "120.1 / 74"],
  ["Constant", "77.04 ± 2.43"], ["Mean", "-0.1309 ± 0.0174"], ["Sigma", "0.7173 ± 0.0148"],
];
const protonProfStats = [
  ["Entries", "3061"], ["Mean x", "-1.917"], ["Mean y", "-0.1725"], ["RMS x", "0.2244"], ["RMS y", "0.8446"],
];
const ironProfStats = [
  ["Entries", "1859"], ["Mean x", "-1.892"], ["Mean y", "-0.09079"], ["RMS x", "0.2353"], ["RMS y", "0.8393"],
];

// ---------------- plugins ----------------
function makeAxesPlugin(cfg: any) {
  return {
    id: "rootAxes",
    beforeDatasetsDraw(chart: any) {
      if (!cfg.grid) return;
      const { ctx, chartArea: a, scales } = chart;
      ctx.save();
      ctx.strokeStyle = "#000";
      ctx.lineWidth = 1;
      ctx.setLineDash([1.5, 3.5]);
      cfg.grid.forEach((v: number) => {
        const y = Math.round(scales.y.getPixelForValue(v)) + 0.5;
        ctx.beginPath();
        ctx.moveTo(a.left, y);
        ctx.lineTo(a.right, y);
        ctx.stroke();
      });
      ctx.restore();
    },
    afterDatasetsDraw(chart: any) {
      const { ctx, chartArea: a, scales } = chart;
      const xs = scales.x;
      const ys = scales.y;
      ctx.save();
      ctx.strokeStyle = "#000";
      ctx.lineWidth = 1.2;
      ctx.beginPath();
      const nx = Math.round((xs.max - xs.min) / cfg.xMinor);
      for (let i = 0; i <= nx; i++) {
        const px = Math.round(xs.getPixelForValue(xs.min + i * cfg.xMinor)) + 0.5;
        ctx.moveTo(px, a.bottom);
        ctx.lineTo(px, a.bottom - cfg.xMinorLen);
      }
      cfg.xTicks.forEach((v: number) => {
        const px = Math.round(xs.getPixelForValue(v)) + 0.5;
        ctx.moveTo(px, a.bottom);
        ctx.lineTo(px, a.bottom - cfg.xMajorLen);
      });
      const ny = Math.round((ys.max - ys.min) / cfg.yMinor);
      for (let i = 0; i <= ny; i++) {
        const py = Math.round(ys.getPixelForValue(ys.min + i * cfg.yMinor)) + 0.5;
        ctx.moveTo(a.left, py);
        ctx.lineTo(a.left + cfg.yMinorLen, py);
      }
      cfg.yTicks.forEach((v: number) => {
        const py = Math.round(ys.getPixelForValue(v)) + 0.5;
        ctx.moveTo(a.left, py);
        ctx.lineTo(a.left + cfg.yMajorLen, py);
      });
      ctx.stroke();
      ctx.lineWidth = 1.6;
      ctx.strokeRect(a.left, a.top, a.right - a.left, a.bottom - a.top);
      ctx.fillStyle = "#111";
      ctx.font = cfg.font;
      ctx.textAlign = "center";
      ctx.textBaseline = "top";
      cfg.xTicks.forEach((v: number, i: number) => {
        ctx.fillText(cfg.xLabels[i], xs.getPixelForValue(v), a.bottom + cfg.xLabelGap);
      });
      ctx.textAlign = "right";
      ctx.textBaseline = "middle";
      cfg.yTicks.forEach((v: number, i: number) => {
        ctx.fillText(cfg.yLabels[i], a.left - cfg.yLabelGap, ys.getPixelForValue(v));
      });
      ctx.restore();
    },
  };
}

const errorBarPlugin = {
  id: "rootErrorBars",
  afterDatasetsDraw(chart: any) {
    const { ctx, scales } = chart;
    const xs = scales.x;
    const ys = scales.y;
    chart.data.datasets.forEach((ds: any) => {
      if (!ds.errY) return;
      ctx.save();
      ctx.strokeStyle = "#000";
      ctx.lineWidth = 1.6;
      ds.data.forEach((p: any, j: number) => {
        const px = xs.getPixelForValue(p.x);
        const py = ys.getPixelForValue(p.y);
        ctx.beginPath();
        ctx.moveTo(xs.getPixelForValue(p.x - ds.errX), py);
        ctx.lineTo(xs.getPixelForValue(p.x + ds.errX), py);
        ctx.moveTo(px, ys.getPixelForValue(p.y - ds.errY[j]));
        ctx.lineTo(px, ys.getPixelForValue(p.y + ds.errY[j]));
        ctx.stroke();
      });
      ctx.restore();
    });
  },
};

const baseOptions = (padding: any, xMin: number, xMax: number, yMin: number, yMax: number) => ({
  animation: false,
  responsive: false,
  events: [],
  layout: { padding },
  plugins: { legend: { display: false }, tooltip: { enabled: false }, title: { display: false } },
  scales: {
    x: { type: "linear", min: xMin, max: xMax, display: false },
    y: { type: "linear", min: yMin, max: yMax, display: false },
  },
});

function histConfig(counts: number[], fit: number[], color: string, yMax: number, yTicks: number[], yLabels: string[], padding: any) {
  const step = counts.map((c, i) => ({ x: histBinLow + i * histBinWidth, y: c }));
  step.push({ x: histBinLow + counts.length * histBinWidth, y: counts[counts.length - 1] });
  const fitPts = fitX.map((x, i) => ({ x, y: fit[i] }));
  return {
    type: "line",
    data: {
      datasets: [
        { data: fitPts, borderColor: "#000", borderWidth: 2.8, pointRadius: 0, cubicInterpolationMode: "monotone", fill: false },
        { data: step, borderColor: color, borderWidth: 2.6, pointRadius: 0, stepped: "after", fill: false },
      ],
    },
    options: baseOptions(padding, -4, 4, 0, yMax),
    plugins: [
      makeAxesPlugin({
        xTicks: histXTicks, xLabels: histXTickLabels, xMinor: 0.2, xMajorLen: 11, xMinorLen: 5.5,
        yTicks, yLabels, yMinor: 5, yMajorLen: 16, yMinorLen: 8,
        xLabelGap: 6, yLabelGap: 5, font: '12px "Liberation Sans", Arial, sans-serif',
      }),
    ],
  };
}

function profConfig(points: number[], color: string, profY: number[], profErr: number[], lineY: number[], padding: any) {
  const scatter: any[] = [];
  for (let i = 0; i < points.length; i += 2) scatter.push({ x: points[i], y: points[i + 1] });
  return {
    type: "line",
    data: {
      datasets: [
        {
          data: profileX.map((x, i) => ({ x, y: profY[i] })),
          showLine: false, pointStyle: "rect", pointRadius: 4.9, pointBackgroundColor: "#000",
          pointBorderColor: "#000", pointBorderWidth: 0, errY: profErr, errX: profileHalfWidth,
        },
        { data: lineX.map((x, i) => ({ x, y: lineY[i] })), borderColor: "#000", borderWidth: 1.6, pointRadius: 0, fill: false },
        {
          data: scatter, showLine: false, pointStyle: "rect", pointRadius: 2.5,
          pointBackgroundColor: color, pointBorderColor: color, pointBorderWidth: 0,
        },
      ],
    },
    options: baseOptions(padding, -2.2, -1.2, -4, 4),
    plugins: [
      makeAxesPlugin({
        xTicks: profXTicks, xLabels: profXTickLabels, xMinor: 0.02, xMajorLen: 10, xMinorLen: 5,
        yTicks: profYTicks, yLabels: profYTickLabels, yMinor: 0.2, yMajorLen: 18, yMinorLen: 8,
        grid: profGridLevels, xLabelGap: 4, yLabelGap: 6, font: '11.5px "Liberation Sans", Arial, sans-serif',
      }),
      errorBarPlugin,
    ],
  };
}

function ChartPanel({ left, top, width, height, build }: any) {
  const ref = useRef<HTMLCanvasElement>(null);
  useEffect(() => {
    const chart = new Chart(ref.current as HTMLCanvasElement, build());
    return () => chart.destroy();
  }, []);
  return (
    <canvas ref={ref} width={width} height={height}
      style={{ position: "absolute", left, top, width, height, display: "block" }} />
  );
}

function StatsBox({ left, top, width, headerH, rowH, title, rows, fontSize, spacing, padL, padR }: any) {
  return (
    <div style={{
      position: "absolute", left, top, width, background: "#fff", border: "2px solid #000",
      boxSizing: "border-box", fontFamily: FONT, fontSize, letterSpacing: spacing, color: "#111",
    }}>
      <div style={{ height: headerH, lineHeight: headerH + "px", textAlign: "center", borderBottom: "2px solid #000" }}>{title}</div>
      {rows.map((r: string[], i: number) => (
        <div key={i} style={{
          display: "flex", justifyContent: "space-between", height: rowH, lineHeight: rowH + "px",
          paddingLeft: padL, paddingRight: padR, whiteSpace: "nowrap",
        }}>
          <span>{r[0] === "CHI" ? (<>χ<sup style={{ fontSize: "0.65em", lineHeight: 0 }}>2</sup> / ndf</>) : r[0]}</span>
          <span>{r[1]}</span>
        </div>
      ))}
    </div>
  );
}

const sub = { fontSize: "0.68em", lineHeight: 0, verticalAlign: "-0.35em" } as any;

export default function App() {
  return (
    <div style={{ position: "fixed", left: 0, top: 0, width: 1401, height: 926, background: "#fff", overflow: "hidden", fontFamily: FONT, color: "#111" }}>
      <div style={{ position: "absolute", left: 0, top: 0, width: 1401, height: 5, background: "#e3e3e3" }} />
      <div style={{ position: "absolute", left: 0, top: 0, width: 15, height: 926, background: "linear-gradient(#dedede, #e6e6e6 45%, #fbfbfb 62%, #ffffff)" }} />

      <ChartPanel left={0} top={0} width={700} height={460}
        build={() => histConfig(protonCounts, protonFit, "#ff0000", 168, protonYTicks, protonYTickLabels, { left: 93, right: 73, top: 58, bottom: 40 })} />
      <ChartPanel left={700} top={0} width={701} height={460}
        build={() => histConfig(ironCounts, ironFit, "#0000ff", 104, ironYTicks, ironYTickLabels, { left: 90, right: 77, top: 58, bottom: 40 })} />
      <ChartPanel left={0} top={460} width={700} height={466}
        build={() => profConfig(protonScatter.concat(protonScatterCore), "#ff0000", protonProfileY, protonProfileErr, protonLineY, { left: 93, right: 73, top: 70, bottom: 33 })} />
      <ChartPanel left={700} top={460} width={701} height={466}
        build={() => profConfig(ironScatter.concat(ironScatterCore), "#0000ff", ironProfileY, ironProfileErr, ironLineY, { left: 90, right: 77, top: 70, bottom: 33 })} />

      <div style={{ position: "absolute", left: 0, width: 720, top: 17, textAlign: "center", fontSize: 22, lineHeight: "28px" }}>proton ψ resolution (Δψ)</div>
      <div style={{ position: "absolute", left: 697, width: 720, top: 17, textAlign: "center", fontSize: 22, lineHeight: "28px" }}>iron ψ resolution (Δψ)</div>
      <div style={{ position: "absolute", left: 0, width: 720, top: 485, textAlign: "center", fontSize: 24, lineHeight: "30px" }}>
        proton (Δψ) vs. log<sub style={sub}>10</sub>(E)
      </div>
      <div style={{ position: "absolute", left: 697, width: 720, top: 485, textAlign: "center", fontSize: 24, lineHeight: "30px" }}>
        iron (Δψ) vs. log<sub style={sub}>10</sub>(E)
      </div>

      <div style={{ position: "absolute", right: 774, top: 904, fontSize: 11, lineHeight: "14px" }}>log<sub style={sub}>10</sub>(E [EeV])</div>
      <div style={{ position: "absolute", right: 77, top: 904, fontSize: 11, lineHeight: "14px" }}>log<sub style={sub}>10</sub>(E [EeV])</div>

      <StatsBox left={441} top={42} width={241} headerH={20} rowH={19.7} title="h_psi_pr" rows={protonHistStats}
        fontSize={15.5} spacing="0.9px" padL={10} padR={10} />
      <StatsBox left={1137} top={42} width={241} headerH={20} rowH={19.7} title="h_psi_fe" rows={ironHistStats}
        fontSize={14} spacing="0.6px" padL={10} padR={11} />
      <StatsBox left={547} top={514} width={135} headerH={17} rowH={17.6} title="s_psi_pr" rows={protonProfStats}
        fontSize={14} spacing="0.4px" padL={3} padR={5} />
      <StatsBox left={1244} top={514} width={134} headerH={17} rowH={17.6} title="s_psi_fe" rows={ironProfStats}
        fontSize={12.5} spacing="0.3px" padL={3} padR={6} />
    </div>
  );
}
